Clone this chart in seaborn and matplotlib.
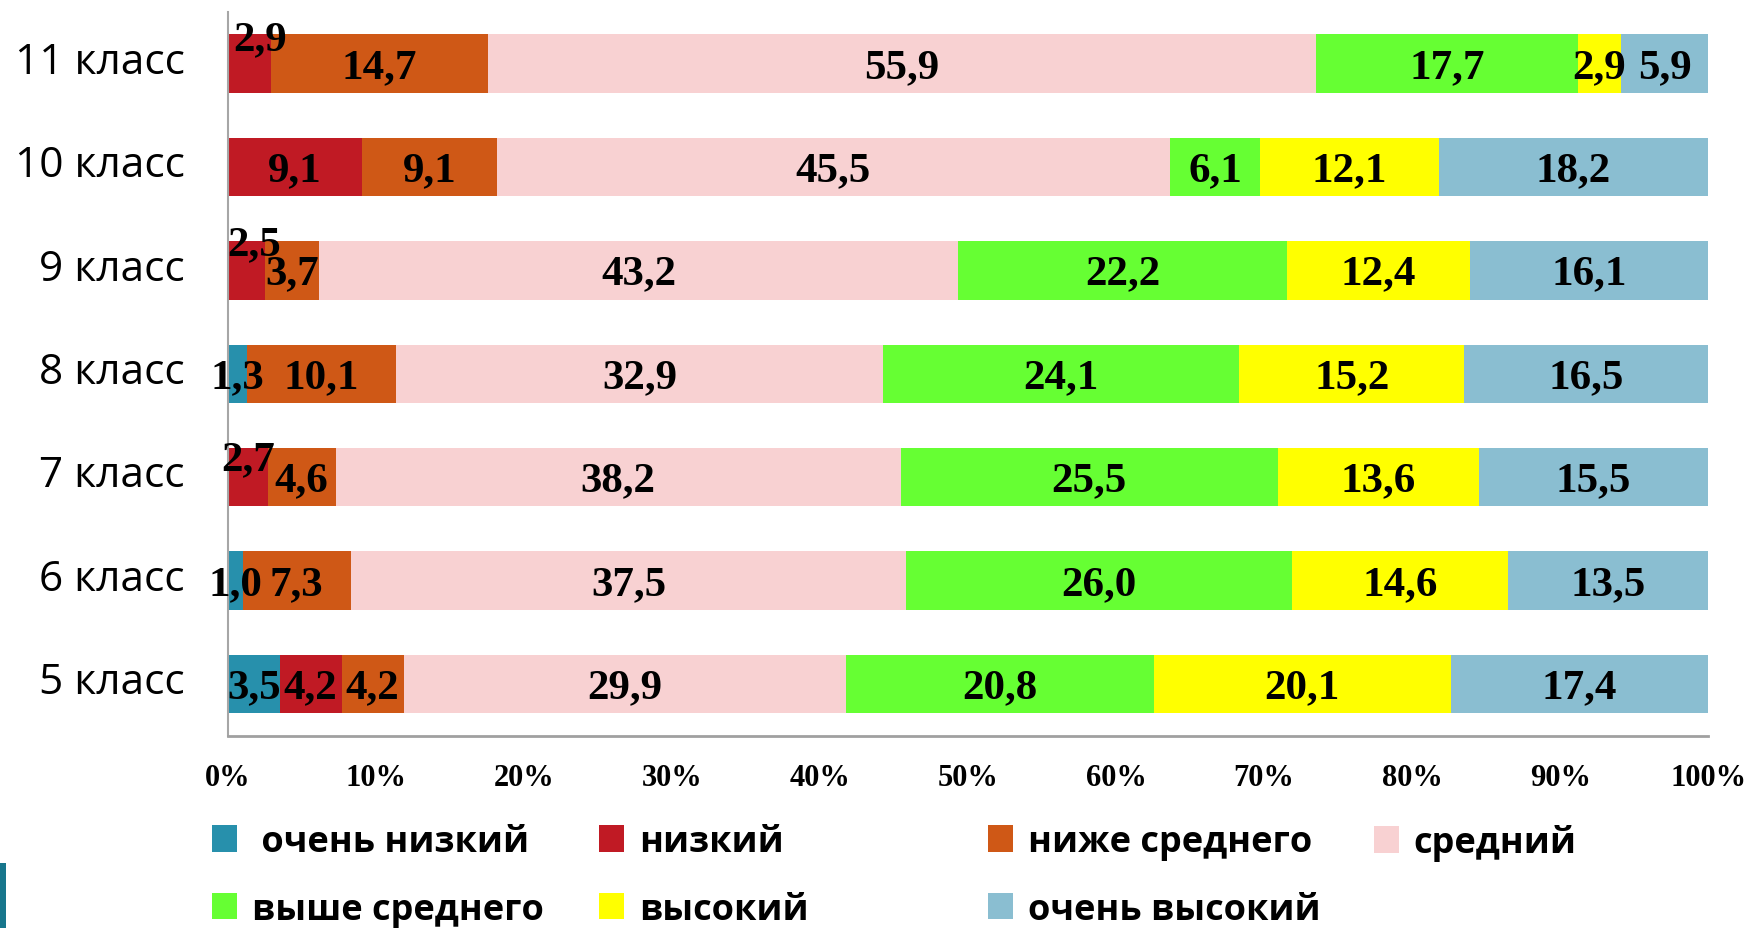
import matplotlib
matplotlib.use("Agg")
import matplotlib.pyplot as plt
from matplotlib.patches import Patch, Rectangle
from matplotlib.transforms import ScaledTranslation
import numpy as np
import pandas as pd
import seaborn as sns

classes = ["11 класс", "10 класс", "9 класс", "8 класс", "7 класс", "6 класс", "5 класс"]
levels = ["очень низкий", "низкий", "ниже среднего", "средний",
          "выше среднего", "высокий", "очень высокий"]

very_low = [0.0, 0.0, 0.0, 1.3, 0.0, 1.0, 3.5]
low = [2.9, 9.1, 2.5, 0.0, 2.7, 0.0, 4.2]
below_avg = [14.7, 9.1, 3.7, 10.1, 4.6, 7.3, 4.2]
average = [55.9, 45.5, 43.2, 32.9, 38.2, 37.5, 29.9]
above_avg = [17.7, 6.1, 22.2, 24.1, 25.5, 26.0, 20.8]
high = [2.9, 12.1, 12.4, 15.2, 13.6, 14.6, 20.1]
very_high = [5.9, 18.2, 16.1, 16.5, 15.5, 13.5, 17.4]

colors = ["#2790AC", "#C01A24", "#CF5816", "#F8D1D2", "#66FF33", "#FFFF00", "#8ABED1"]

# small label nudges (dx in %, dy in bar units) for the crowded segments
nudges = {("11 класс", "низкий"): (0.7, -0.27),
          ("9 класс", "низкий"): (0.5, -0.28),
          ("7 класс", "низкий"): (0.0, -0.2)}

raw = np.array([very_low, low, below_avg, average, above_avg, high, very_high]).T
vals = raw / raw.sum(axis=1, keepdims=True) * 100
cum = vals.cumsum(axis=1)

df = pd.DataFrame(cum, columns=levels)
df["класс"] = classes

fig = plt.figure(figsize=(17.52, 9.29), dpi=100)
ax = fig.add_axes([0.130, 0.207, 0.845, 0.779])

# stacked bars: draw the running totals from the last level to the first
for i in range(len(levels) - 1, -1, -1):
    sns.barplot(data=df, x=levels[i], y="класс", color=colors[i], saturation=1,
                orient="h", width=0.565, errorbar=None, ax=ax, order=classes)

for r, cls in enumerate(classes):
    for i, lev in enumerate(levels):
        v = raw[r, i]
        if v <= 0:
            continue
        dx, dy = nudges.get((cls, lev), (0.0, 0.0))
        xc = cum[r, i] - vals[r, i] / 2 + dx
        ax.text(xc, r + 0.03 + dy, f"{v:.1f}".replace(".", ","), ha="center", va="center",
                fontsize=31, fontweight="bold", family="Liberation Serif", color="black")

ax.set_xlim(0, 100)
ax.set_ylim(6.5, -0.5)
ax.set_xlabel("")
ax.set_ylabel("")
ax.set_xticks(range(0, 101, 10))
ax.set_xticklabels([f"{t}%" for t in range(0, 101, 10)], fontsize=22,
                   fontweight="bold", family="Liberation Serif")
ax.set_yticks(range(len(classes)))
ax.set_yticklabels(classes, fontsize=30.5, family="Open Sans")
ax.tick_params(axis="x", length=0, pad=20)
ax.tick_params(axis="y", length=0, pad=31)
shift = ScaledTranslation(0, 5 / 72, fig.dpi_scale_trans)
for lbl in ax.get_yticklabels():
    lbl.set_transform(lbl.get_transform() + shift)
for s in ["top", "right"]:
    ax.spines[s].set_visible(False)
ax.spines["left"].set_color("#A6A6A6")
ax.spines["left"].set_linewidth(1.5)
ax.spines["bottom"].set_color("#A0A0A0")
ax.spines["bottom"].set_linewidth(2)

# legend laid out on a fixed grid of columns, filled row by row
columns = [[0, 4], [1, 5], [2, 6], [3]]
col_x = [0.121, 0.342, 0.564, 0.784]
for xs, idx in zip(col_x, columns):
    handles = [Patch(facecolor=colors[k], edgecolor="none") for k in idx]
    labels = [(" " if k == 0 else "") + levels[k] for k in idx]
    fig.legend(handles, labels, loc="upper left", bbox_to_anchor=(xs, 0.112),
               frameon=False, ncol=1, borderpad=0, borderaxespad=0,
               handlelength=0.7, handleheight=0.75, handletextpad=0.4,
               labelspacing=0.88,
               prop={"family": "Open Sans", "weight": "bold", "size": 26})

# slide decoration at the bottom-left corner
fig.add_artist(Rectangle((0, 0), 0.0035, 0.07, transform=fig.transFigure,
                         facecolor="#17768C", edgecolor="none"))

fig.savefig("out.png", dpi=100)
